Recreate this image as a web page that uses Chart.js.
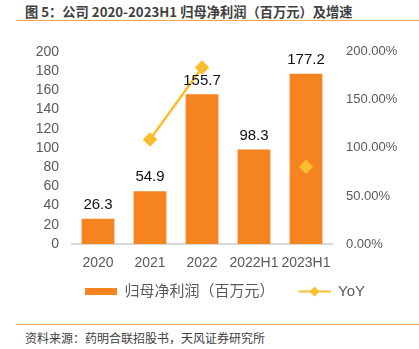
<!DOCTYPE html>
<html>
<head>
<meta charset="utf-8">
<script src="https://cdn.jsdelivr.net/npm/chart.js@4"></script>
<style>
  body { margin: 0; width: 419px; height: 349px; background: #fff; position: relative; overflow: hidden;
         font-family: "Liberation Sans", "Noto Sans CJK SC", sans-serif; }
  .title { position: absolute; left: 25px; top: 2px; font-size: 13.25px; font-weight: bold; color: #404040;
           font-family: "Noto Sans CJK SC", sans-serif; }
  .rule { position: absolute; left: 16px; right: 0; height: 0; border-top: 1.5px solid #F5A35C; }
  .source { position: absolute; left: 25px; top: 329px; font-size: 12px; color: #404040;
            font-family: "Noto Sans CJK SC", sans-serif; }
  #wrap { position: absolute; left: 0; top: 30px; width: 419px; height: 279px; }
</style>
</head>
<body>
<div class="title">图 5：公司 2020-2023H1 归母净利润（百万元）及增速</div>
<div class="rule" style="top:20px"></div>
<div id="wrap"><canvas id="profit" width="419" height="279"></canvas></div>
<div class="rule" style="top:324px"></div>
<div class="source">资料来源：药明合联招股书，天风证券研究所</div>
<script>
const labels = ['2020', '2021', '2022', '2022H1', '2023H1'];
const profit = [26.3, 54.9, 155.7, 98.3, 177.2];
const yoy = [null, 108.7, 183.6, null, 80.3];

const barColor = '#F5831F';
const lineColor = '#FABD2B';
const tickColor = '#595959';

// legend swatches, drawn in the right 32px of a 46px box
function swatch(kind) {
    const c = document.createElement('canvas');
    c.width = 46; c.height = 11;
    const g = c.getContext('2d');
    if (kind === 'bar') {
        g.fillStyle = barColor;
        g.fillRect(14, 2, 32, 7);
    } else {
        g.strokeStyle = lineColor;
        g.lineWidth = 2;
        g.beginPath(); g.moveTo(14, 5.5); g.lineTo(46, 5.5); g.stroke();
        g.fillStyle = lineColor;
        g.beginPath(); g.moveTo(30, 0.5); g.lineTo(35, 5.5); g.lineTo(30, 10.5); g.lineTo(25, 5.5); g.closePath(); g.fill();
    }
    return c;
}
const swatches = [swatch('bar'), swatch('line')];

const barLabels = {
    id: 'barLabels',
    afterDatasetsDraw(chart) {
        const ctx = chart.ctx;
        const meta = chart.getDatasetMeta(1);
        ctx.save();
        ctx.font = '15px "Liberation Sans", sans-serif';
        ctx.fillStyle = '#111';
        ctx.textAlign = 'center';
        ctx.textBaseline = 'middle';
        meta.data.forEach((bar, i) => {
            ctx.fillText(profit[i].toFixed(1), bar.x, bar.y - 14);
        });
        ctx.restore();
    }
};

new Chart(document.getElementById('profit'), {
    data: {
        labels: labels,
        datasets: [{
            type: 'line',
            label: 'YoY',
            data: yoy,
            yAxisID: 'y1',
            borderColor: lineColor,
            backgroundColor: lineColor,
            borderWidth: 2.5,
            pointStyle: 'rectRot',
            pointRadius: 5.5,
            pointHoverRadius: 5.5,
            spanGaps: false,
            order: 0
        }, {
            type: 'bar',
            label: '归母净利润（百万元）',
            data: profit,
            yAxisID: 'y',
            backgroundColor: barColor,
            categoryPercentage: 1,
            barPercentage: 0.63,
            order: 1
        }]
    },
    options: {
        responsive: false,
        animation: false,
        devicePixelRatio: 1,
        layout: { padding: { top: 17, left: 17, right: 0, bottom: 0 } },
        plugins: {
            legend: {
                position: 'bottom',
                labels: {
                    usePointStyle: true,
                    pointStyleWidth: 46,
                    padding: 10,
                    color: tickColor,
                    font: { size: 15, family: '"Liberation Sans", "Noto Sans CJK SC", sans-serif' },
                    generateLabels(chart) {
                        const items = Chart.defaults.plugins.legend.labels.generateLabels(chart);
                        items.forEach(it => { it.pointStyle = it.datasetIndex === 1 ? swatches[0] : swatches[1]; });
                        return items.sort((a, b) => b.datasetIndex - a.datasetIndex);
                    }
                }
            },
            tooltip: { enabled: false }
        },
        scales: {
            x: {
                grid: { display: false, drawTicks: false },
                border: { display: true, color: '#D9D9D9', width: 2 },
                ticks: { color: tickColor, padding: 11, font: { size: 14 }, autoSkip: false, maxRotation: 0 },
                afterFit(s) { s.height = 30; }
            },
            y: {
                position: 'left',
                min: 0, max: 200,
                grid: { display: false, drawTicks: false },
                border: { display: false },
                ticks: { stepSize: 20, color: tickColor, padding: 13, font: { size: 14 }, autoSkip: false },
                afterFit(s) { s.width = 55; }
            },
            y1: {
                position: 'right',
                min: 0, max: 200,
                grid: { display: false, drawTicks: false },
                border: { display: false },
                ticks: { stepSize: 50, color: tickColor, padding: 14, font: { size: 13 }, autoSkip: false,
                         callback: v => v.toFixed(2) + '%' },
                afterFit(s) { s.width = 87; }
            }
        }
    },
    plugins: [barLabels]
});
</script>
</body>
</html>
